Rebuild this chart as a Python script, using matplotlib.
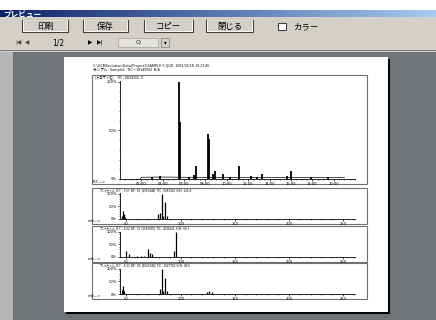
import numpy as np
import matplotlib
matplotlib.use("Agg")
import matplotlib.pyplot as plt
from matplotlib.patches import Rectangle
from matplotlib.ticker import MultipleLocator

plt.rcParams['font.family'] = ['DejaVu Sans', 'Noto Sans CJK JP']
JP = ['Noto Sans CJK JP', 'DejaVu Sans']

# ---- data --------------------------------------------------------------
# TIC chromatogram: retention time (min) and relative intensity (%)
peak_rt = [3.0, 3.77, 5.57, 5.62, 6.5, 6.95, 7.08, 8.22, 8.31, 8.75, 8.88,
           9.6, 10.3, 11.14, 12.29, 12.8, 13.3, 15.6, 15.98, 17.9, 19.5]
peak_int = [2.5, 3.5, 100, 59, 2.5, 4, 13, 46, 41, 5, 8,
            5, 2.5, 13, 3, 2.5, 5, 3, 8, 2, 2]
base_rt = [1.9, 2.0, 4.0, 6.0, 9.0, 12.0, 16.0, 21.0]
base_int = [0, 1.8, 2.0, 1.8, 1.6, 1.6, 1.5, 1.4]
rt_ticks = [2, 4, 6, 8, 10, 12, 14, 16, 18, 20]
rt_labels = ['02:00', '04:00', '06:00', '08:00', '10:00', '12:00',
             '14:00', '16:00', '18:00', '20:00']

# mass spectra: m/z and relative intensity (%)
ms1_mz = [46, 47, 48, 49, 79, 81, 83, 84, 86, 87]
ms1_int = [12, 33, 18, 8, 20, 25, 100, 12, 68, 10]
ms2_mz = [50, 52, 60, 63, 66, 70, 72, 74, 94, 96]
ms2_int = [23, 10, 4, 5, 3, 32, 15, 10, 25, 100]
ms3_mz = [46, 47, 48, 81, 83, 84, 86, 87, 124, 126, 129]
ms3_int = [15, 30, 12, 20, 100, 10, 65, 12, 8, 12, 8]
mz_ticks = [50, 100, 150, 200, 250]
spectra = [(ms1_mz, ms1_int, 'R.T. : 5.57  BP : 83  (2915448)  TIC : 9283520  S/N : 126.4'),
           (ms2_mz, ms2_int, 'R.T. : 8.22  BP : 96  (1183560)  TIC : 4018221  S/N : 58.3'),
           (ms3_mz, ms3_int, 'R.T. : 8.31  BP : 83  (1026344)  TIC : 3927710  S/N : 49.8')]

# ---- figure ------------------------------------------------------------
W, H = 436, 320
fig = plt.figure(figsize=(W / 100, H / 100), dpi=100)
fig.patch.set_facecolor('white')


def box(x0, y0, x1, y1, fc='none', ec='none', lw=0.8, z=1):
    fig.patches.append(Rectangle((x0 / W, 1 - y1 / H), (x1 - x0) / W, (y1 - y0) / H,
                                 transform=fig.transFigure, facecolor=fc,
                                 edgecolor=ec, linewidth=lw, zorder=z))


def txt(x, y, s, size=3, family=None, **kw):
    fig.text(x / W, 1 - y / H, s, fontsize=size, family=family or JP,
             va='center', **kw)


def axes_px(x0, y0, x1, y1):
    return fig.add_axes([x0 / W, 1 - y1 / H, (x1 - x0) / W, (y1 - y0) / H])


# window chrome
box(0, 17, 436, 52, fc='#d4d0c8')
box(0, 52, 13, 320, fc='#b4b6b8')
box(13, 52, 436, 320, fc='#6f7479')
box(0, 50, 436, 51, fc='#808080')

tb = axes_px(0, 10, 436, 17)
tb.imshow(np.linspace(0, 1, 200)[None, :], aspect='auto', extent=[0, 1, 0, 1],
          cmap=matplotlib.colors.LinearSegmentedColormap.from_list('t', ['#0a246a', '#a6caf0']))
tb.axis('off')
txt(3, 13.5, 'プレビュー', size=5.5, color='white', weight='bold')

for (x0, x1, s) in [(22, 68, '印刷'), (83, 128, '保存'), (144, 193, 'コピー'), (206, 253, '閉じる')]:
    box(x0, 20, x1, 32, fc='#d4d0c8', ec='#404040', lw=0.8, z=2)
    box(x0 + 0.5, 20.5, x1 - 1.5, 31, ec='white', lw=0.6, z=2)
    txt((x0 + x1) / 2, 26, s, size=6, ha='center', color='black')
box(278, 23, 286, 30, fc='white', ec='#404040', lw=0.8, z=2)
txt(293, 26.5, 'カラー', size=6, color='black')

txt(15, 42.5, '|◀', size=4, family=['DejaVu Sans'], color='#404040')
txt(25, 42.5, '◀', size=4, family=['DejaVu Sans'], color='#404040')
txt(52, 42.5, '1/2', size=5.5, family=['DejaVu Sans'], color='black')
txt(88, 42.5, '▶', size=4, family=['DejaVu Sans'], color='black')
txt(97, 42.5, '▶|', size=4, family=['DejaVu Sans'], color='black')
box(118, 38, 158, 47, fc='#e4e2dc', ec='#a0a0a0', lw=0.5, z=2)
txt(138, 42.5, 'Q', size=4.5, family=['DejaVu Sans'], color='#202020', ha='center')
box(161, 38, 169, 47, fc='#d4d0c8', ec='#808080', lw=0.5, z=2)
txt(165, 42.5, '▾', size=4, family=['DejaVu Sans'], color='black', ha='center')

# page
box(66, 59, 390, 314, fc='black', z=2)
box(64, 57, 388, 312, fc='white', z=3)

# frames
for (y0, y1) in [(75, 184), (188, 224), (226, 262), (263, 299)]:
    box(92, y0, 367, y1, ec='#707070', lw=0.8, z=4)

txt(93, 66, r'C:\GCMSsolution\Data\Project1\SAMPLE-5.QGD   2003/03/18  10:27:46', size=2.6, color='black', zorder=5)
txt(93, 70.5, 'サンプル : Sample1   TIC = 18149502  N/A', size=2.6, color='black', zorder=5)
txt(95, 77, '[クロマト名]     TIC : 18149502 : 0', size=2.3, color='black', zorder=5)
txt(93, 182, 'R.T.—>', size=2.6, family=['DejaVu Sans'], color='black', zorder=5)

tick_kw = dict(labelsize=2.6, length=1.5, width=0.5, pad=0.8, colors='black')

# main chromatogram
ax = axes_px(120, 81, 355, 179)
ax.set_zorder(5)
ax.vlines(peak_rt, 0, peak_int, color='black', linewidth=1.3)
ax.plot(base_rt, base_int, color='black', linewidth=0.5)
ax.set_xlim(0, 22)
ax.set_ylim(0, 101)
ax.set_xticks(rt_ticks)
ax.set_xticklabels(rt_labels)
ax.set_yticks([0, 50, 100])
ax.set_yticklabels(['0%', '50%', '100%'])
ax.xaxis.set_minor_locator(MultipleLocator(0.5))
ax.yaxis.set_minor_locator(MultipleLocator(10))
ax.tick_params(**tick_kw)
ax.tick_params(which='minor', length=1, width=0.4)
for s in ['top', 'right']:
    ax.spines[s].set_visible(False)
for s in ['left', 'bottom']:
    ax.spines[s].set_linewidth(0.6)
ax.patch.set_alpha(0)

# mass spectra
for (mz, inten, head), (y0, y1) in zip(spectra, [(188, 224), (226, 262), (263, 299)]):
    sx = axes_px(120, y0 + 5.5, 355, y1 - 5)
    sx.set_zorder(5)
    sx.vlines(mz, 0, inten, color='black', linewidth=0.9)
    sx.set_xlim(44, 261)
    sx.set_ylim(0, 101)
    sx.set_xticks(mz_ticks)
    sx.set_yticks([0, 50, 100])
    sx.set_yticklabels(['0%', '50%', '100%'])
    sx.xaxis.set_minor_locator(MultipleLocator(10))
    sx.yaxis.set_minor_locator(MultipleLocator(10))
    sx.tick_params(**tick_kw)
    sx.tick_params(which='minor', length=1, width=0.4)
    for s in ['top', 'right']:
        sx.spines[s].set_visible(False)
    for s in ['left', 'bottom']:
        sx.spines[s].set_linewidth(0.6)
    sx.patch.set_alpha(0)
    txt(100, y0 + 1.8, 'スペクトル  ' + head, size=2.2, color='black', zorder=6)
    txt(88, y1 - 3, 'm/z—>', size=2.6, family=['DejaVu Sans'], color='black', zorder=6)

fig.savefig('out.png', dpi=100)
